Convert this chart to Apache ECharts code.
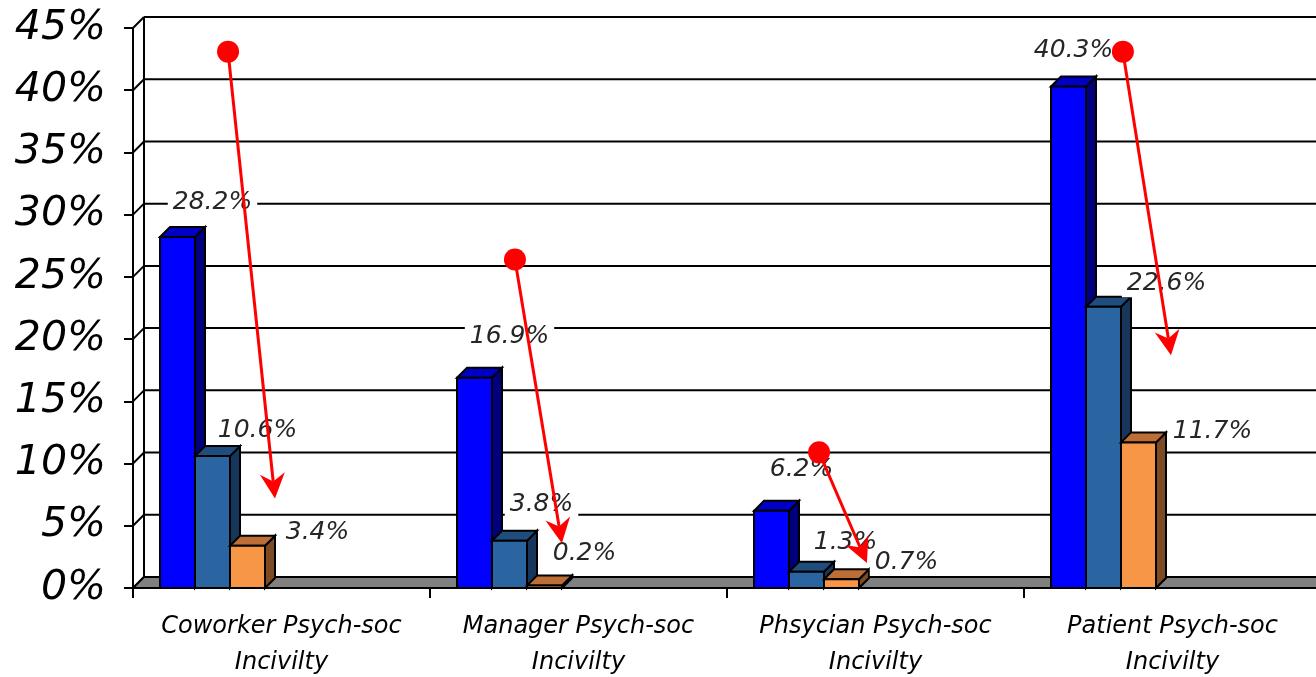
<!DOCTYPE html>
<html>
<head>
<meta charset="utf-8">
<script src="https://cdn.jsdelivr.net/npm/echarts@6/dist/echarts.min.js"></script>
<style>
  html, body { margin: 0; padding: 0; background: #ffffff; }
  #chart { width: 1316px; height: 677px; }
</style>
</head>
<body>
<div id="chart"></div>
<script>
// ---- data ----
const categories = [
  'Coworker Psych-soc\nIncivilty',
  'Manager Psych-soc\nIncivilty',
  'Phsycian Psych-soc\nIncivilty',
  'Patient Psych-soc\nIncivilty'
];
const seriesA = [28.2, 16.9, 6.2, 40.3];
const seriesB = [10.6, 3.8, 1.3, 22.6];
const seriesC = [3.4, 0.2, 0.7, 11.7];
const yTicks = [0, 5, 10, 15, 20, 25, 30, 35, 40, 45];
// trend arrows per category: start value -> end value
const arrowFrom = [43.1, 26.4, 10.9, 43.1];
const arrowTo = [7.2, 3.6, 2.0, 18.7];

// ---- layout / style ----
const WALL_DEPTH = 11;      // px offset of the back wall
const BAR_DEPTH = 10;       // px depth of each box
const GROUP_START = 27 / 297; // first bar offset inside a category band
const BAR_W = 35 / 297;       // bar width as share of category band
const palettes = [
  { front: '#0000ff', top: '#0000c4', side: '#00007f' },
  { front: '#2a64a1', top: '#1f4e7e', side: '#17365b' },
  { front: '#f79646', top: '#bd6d36', side: '#7d4a22' }
];
// label placement relative to the top-front centre of each bar (px)
const labelShift = [
  [[35, -35], [45, -26], [70, -13]],
  [[35, -41], [32, -36], [40, -32]],
  [[30, -41], [39, -29], [65, -17]],
  [[5, -36], [63, -23], [74, -11]]
];
// arrow x positions as share of the category band, relative to its centre
const arrowX = [[-0.180, -0.022], [-0.214, -0.056], [-0.190, -0.029], [-0.167, -0.005]];

const FONT = '"DejaVu Sans", Verdana, sans-serif';
const valueSets = [seriesA, seriesB, seriesC];

function barGeom(api, cat, v, s) {
  const band = api.size([1, 0])[0];
  const base = api.coord([cat, 0]);
  const top = api.coord([cat, v]);
  const w = band * BAR_W;
  const x0 = base[0] - band / 2 + band * GROUP_START + s * w;
  return { x0: x0, w: w, yb: base[1], yt: top[1] };
}

function boxRender(s) {
  const pal = palettes[s];
  return function (params, api) {
    const g = barGeom(api, api.value(0), api.value(1), s);
    const d = BAR_DEPTH;
    const stroke = { stroke: '#000', lineWidth: 2, lineJoin: 'miter' };
    return {
      type: 'group',
      children: [
        { type: 'polygon', shape: { points: [[g.x0 + g.w, g.yt], [g.x0 + g.w + d, g.yt - d], [g.x0 + g.w + d, g.yb - d], [g.x0 + g.w, g.yb]] },
          style: Object.assign({ fill: pal.side }, stroke) },
        { type: 'polygon', shape: { points: [[g.x0, g.yt], [g.x0 + d, g.yt - d], [g.x0 + g.w + d, g.yt - d], [g.x0 + g.w, g.yt]] },
          style: Object.assign({ fill: pal.top }, stroke) },
        { type: 'rect', shape: { x: g.x0, y: g.yt, width: g.w, height: g.yb - g.yt },
          style: Object.assign({ fill: pal.front }, stroke) }
      ]
    };
  };
}

function labelRender(params, api) {
  const cat = api.value(0), v = api.value(1), s = api.value(2);
  const g = barGeom(api, cat, v, s);
  const sh = labelShift[cat][s];
  return {
    type: 'text',
    x: g.x0 + g.w / 2 + sh[0],
    y: g.yt + sh[1],
    style: {
      text: v.toFixed(1) + '%',
      font: 'italic 25px ' + FONT,
      fill: '#262626',
      align: 'center',
      verticalAlign: 'middle',
      backgroundColor: '#ffffff',
      padding: [1, 5]
    }
  };
}

function frameRender(params, api) {
  const cs = params.coordSys;
  const v = api.value(1);
  const p = api.coord([0, v]);
  const D = WALL_DEPTH;
  const xL = cs.x, xR = cs.x + cs.width;
  const line = { stroke: '#000', lineWidth: 2 };
  const children = [
    { type: 'line', shape: { x1: xL + D, y1: p[1] - D, x2: xR + D, y2: p[1] - D }, style: line },
    { type: 'line', shape: { x1: xL, y1: p[1], x2: xL + D, y2: p[1] - D }, style: line }
  ];
  if (params.dataIndex === 0) {
    const top = api.coord([0, yTicks[yTicks.length - 1]]);
    children.push({ type: 'line', shape: { x1: xL + D, y1: top[1] - D, x2: xL + D, y2: p[1] - D }, style: line });
    children.push({ type: 'polygon', shape: { points: [[xL, p[1]], [xR, p[1]], [xR + D, p[1] - D], [xL + D, p[1] - D]] },
      style: { fill: '#808080', stroke: '#000', lineWidth: 2 } });
  }
  return { type: 'group', children: children };
}

function arrowRender(params, api) {
  const cat = api.value(0);
  const band = api.size([1, 0])[0];
  const a = api.coord([cat, api.value(1)]);
  const b = api.coord([cat, api.value(2)]);
  const S = [a[0] + arrowX[cat][0] * band, a[1]];
  const T = [b[0] + arrowX[cat][1] * band, b[1]];
  const dx = T[0] - S[0], dy = T[1] - S[1];
  const len = Math.sqrt(dx * dx + dy * dy);
  const ux = dx / len, uy = dy / len, nx = -uy, ny = ux;
  const L = 25, H = 12.5, notch = 17;
  const B = [T[0] - ux * L, T[1] - uy * L];
  const N = [T[0] - ux * notch, T[1] - uy * notch];
  return {
    type: 'group',
    children: [
      { type: 'line', shape: { x1: S[0], y1: S[1], x2: N[0], y2: N[1] }, style: { stroke: '#ff0000', lineWidth: 3 } },
      { type: 'polygon', shape: { points: [T, [B[0] + nx * H, B[1] + ny * H], N, [B[0] - nx * H, B[1] - ny * H]] },
        style: { fill: '#ff0000' } },
      { type: 'circle', shape: { cx: S[0], cy: S[1], r: 11 }, style: { fill: '#ff0000' } }
    ]
  };
}

const chart = echarts.init(document.getElementById('chart'), null, { renderer: 'canvas' });

const boxSeries = valueSets.map(function (vals, s) {
  return {
    name: 'Group ' + (s + 1),
    type: 'custom',
    z: 3,
    renderItem: boxRender(s),
    data: vals.map(function (v, i) { return [i, v]; })
  };
});

const labelData = [];
categories.forEach(function (c, i) {
  valueSets.forEach(function (vals, s) { labelData.push([i, vals[i], s]); });
});

chart.setOption({
  animation: false,
  backgroundColor: '#ffffff',
  grid: { left: 133, right: -5, top: 28, bottom: 89, containLabel: false, outerBoundsMode: 'none' },
  xAxis: {
    type: 'category',
    data: categories,
    boundaryGap: true,
    axisLine: { show: true, lineStyle: { color: '#000', width: 2 } },
    axisTick: { show: true, length: 10, lineStyle: { color: '#000', width: 2 } },
    axisLabel: {
      interval: 0,
      margin: 21,
      color: '#000',
      fontFamily: FONT,
      fontStyle: 'italic',
      fontSize: 24,
      lineHeight: 36
    },
    splitLine: { show: false }
  },
  yAxis: {
    type: 'value',
    min: 0,
    max: 45,
    interval: 5,
    axisLine: { show: true, lineStyle: { color: '#000', width: 2 } },
    axisTick: { show: true, length: 9, lineStyle: { color: '#000', width: 2 } },
    axisLabel: {
      formatter: '{value}%',
      margin: 27,
      color: '#000',
      fontFamily: FONT,
      fontStyle: 'italic',
      fontSize: 41
    },
    splitLine: { show: false }
  },
  series: [
    {
      name: 'frame',
      type: 'custom',
      z: 1,
      renderItem: frameRender,
      data: yTicks.map(function (t) { return [0, t]; })
    }
  ].concat(boxSeries).concat([
    {
      name: 'labels',
      type: 'custom',
      z: 5,
      renderItem: labelRender,
      data: labelData
    },
    {
      name: 'arrows',
      type: 'custom',
      z: 6,
      renderItem: arrowRender,
      data: arrowFrom.map(function (v, i) { return [i, v, arrowTo[i]]; })
    }
  ])
});
</script>
</body>
</html>
